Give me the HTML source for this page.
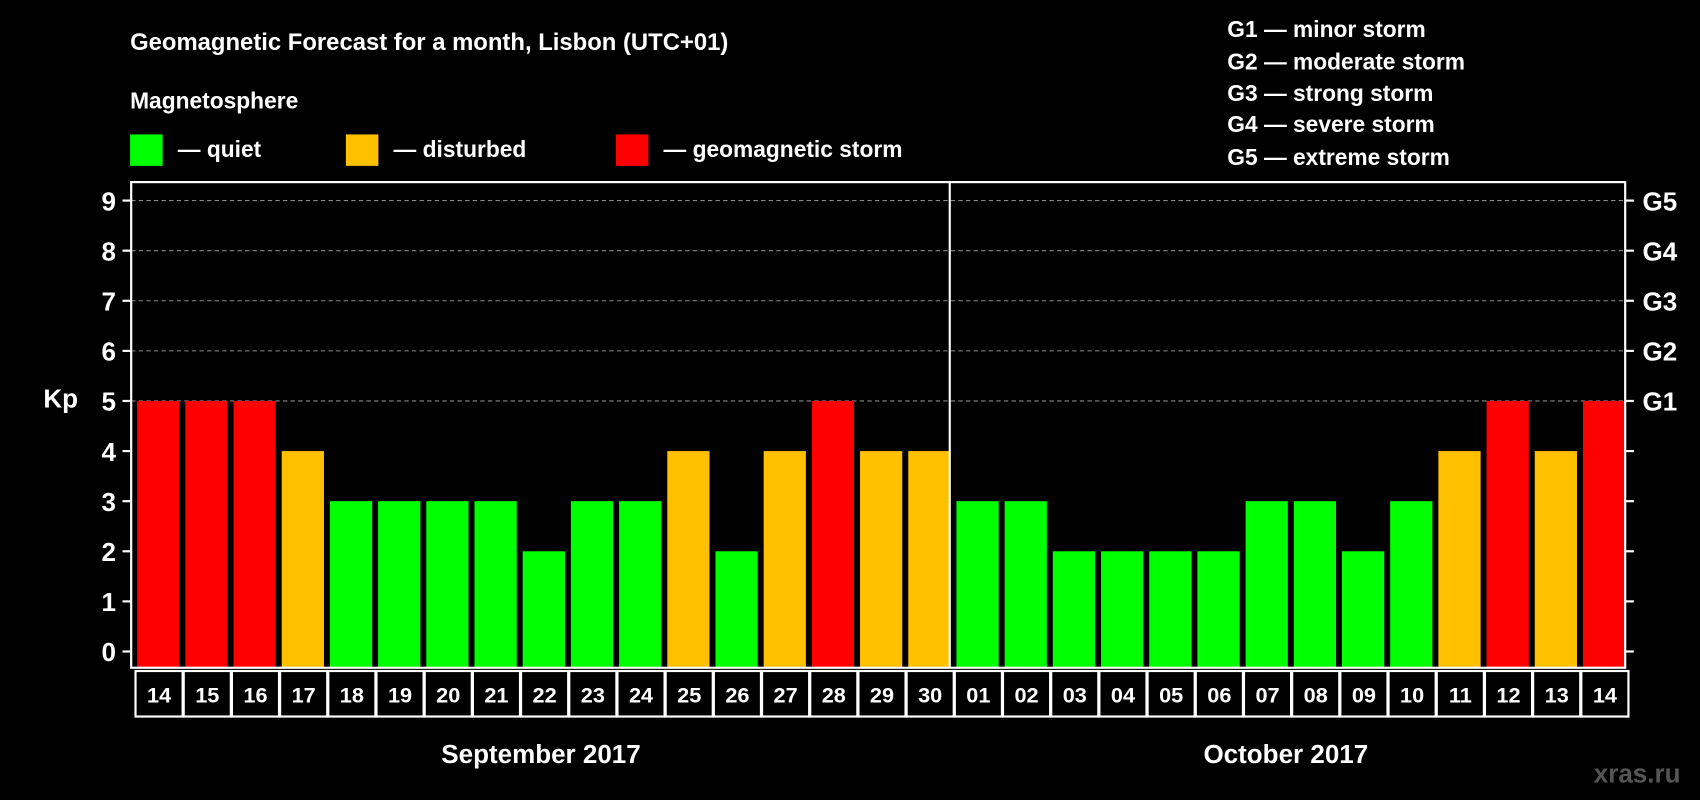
<!DOCTYPE html>
<html><head><meta charset="utf-8"><style>
html,body{margin:0;padding:0;background:#000;}
svg{display:block;font-family:"Liberation Sans",Arial,sans-serif;font-weight:bold;}
</style></head><body>
<svg id="chart" width="1700" height="800" viewBox="0 0 1568 738" preserveAspectRatio="none">
<rect width="1568" height="738" fill="#000"/>
<text x="120" y="46" fill="#fff" font-size="22">Geomagnetic Forecast for a month, Lisbon (UTC+01)</text>
<text x="120" y="100" fill="#fff" font-size="21">Magnetosphere</text>
<rect x="120" y="124" width="30" height="29" fill="#00ff00"/>
<text x="164" y="145" fill="#fff" font-size="21">— quiet</text>
<rect x="319" y="124" width="30" height="29" fill="#ffc000"/>
<text x="363" y="145" fill="#fff" font-size="21">— disturbed</text>
<rect x="568" y="124" width="30" height="29" fill="#ff0000"/>
<text x="612" y="145" fill="#fff" font-size="21">— geomagnetic storm</text>
<g fill="#fff" font-size="21">
<text x="1132" y="34">G1 — minor storm</text>
<text x="1132" y="64">G2 — moderate storm</text>
<text x="1132" y="93">G3 — strong storm</text>
<text x="1132" y="122">G4 — severe storm</text>
<text x="1132" y="152">G5 — extreme storm</text>
</g>
<text x="40" y="376" fill="#fff" font-size="24">Kp</text>
<g id="grid"></g>
<g id="bars"></g>
<rect x="121" y="168" width="1378" height="448" fill="none" stroke="#fff" stroke-width="2"/>
<line x1="876" y1="168" x2="876" y2="616" stroke="#fff" stroke-width="2"/>
<g id="days"></g>
<text x="499" y="704" fill="#fff" font-size="24" text-anchor="middle">September 2017</text>
<text x="1186" y="704" fill="#fff" font-size="24" text-anchor="middle">October 2017</text>
<text x="1550" y="722" fill="#555" font-size="24" text-anchor="end">xras.ru</text>
</svg>
<script>
const days = ["14","15","16","17","18","19","20","21","22","23","24","25","26","27","28","29","30","01","02","03","04","05","06","07","08","09","10","11","12","13","14"];
const kp = [5,5,5,4,3,3,3,3,2,3,3,4,2,4,5,4,4,3,3,2,2,2,2,3,3,2,3,4,5,4,5];
const yTicks = [0,1,2,3,4,5,6,7,8,9];
const gLabels = ["G1","G2","G3","G4","G5"];
const NS="http://www.w3.org/2000/svg";
const X0=121, X1=1499, step=(X1-X0)/days.length;
const y=v=>601-v*46.22;
const xs=i=>X0+i*step;
function mk(t,a,p){const e=document.createElementNS(NS,t);for(const k in a)e.setAttribute(k,a[k]);p.appendChild(e);return e;}
const grid=document.getElementById('grid'),bars=document.getElementById('bars'),dg=document.getElementById('days');
yTicks.forEach(v=>{
  if(v>=5){const l=mk('line',{x1:X0,x2:X1,y1:y(v),y2:y(v),stroke:'#888','stroke-dasharray':'4,3','stroke-width':1},grid);
  
  }
  mk('line',{x1:113,x2:X0,y1:y(v),y2:y(v),stroke:'#fff','stroke-width':2},grid);
  mk('line',{x1:X1,x2:1507,y1:y(v),y2:y(v),stroke:'#fff','stroke-width':2},grid);
  const t=mk('text',{x:107,y:y(v)+9,fill:'#fff','font-size':24,'text-anchor':'end'},grid);t.textContent=v;
  
  
});
gLabels.forEach((g,i)=>{
  const t=mk('text',{x:1515,y:y(5+i)+9,fill:'#fff','font-size':24},grid);t.textContent=g;
  
  
});
const col=v=>v>=5?'#ff0000':(v>=4?'#ffc000':'#00ff00');
kp.forEach((v,i)=>{
  const r=mk('rect',{x:xs(i)+5.5,y:y(v),width:step-5.5,height:616-y(v),fill:col(v)},bars);
  
  
});
days.forEach((d,i)=>{
  mk('rect',{x:xs(i)+4,y:619,width:step-1,height:42,fill:'none',stroke:'#fff','stroke-width':2},dg);
  const t=mk('text',{x:xs(i)+4+(step-1)/2,y:648,fill:'#fff','font-size':20,'text-anchor':'middle'},dg);t.textContent=d;
  
  
});
</script>
</body></html>
